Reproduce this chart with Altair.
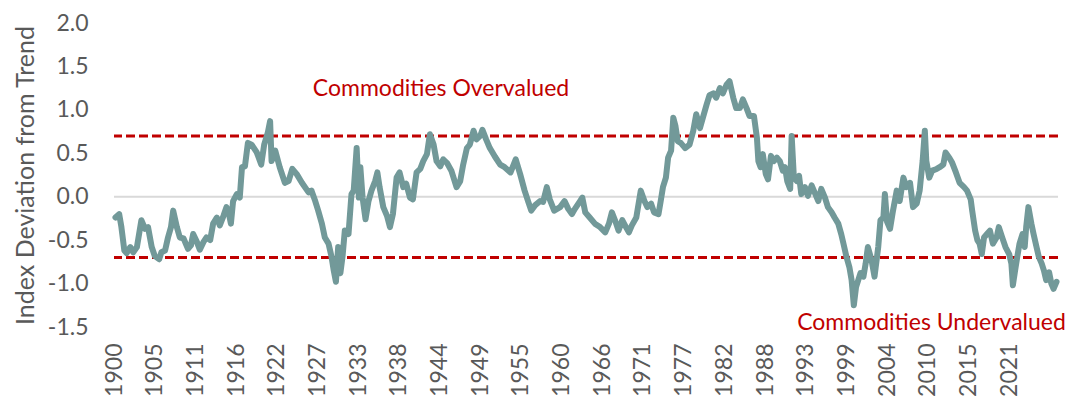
import altair as alt
import pandas as pd

# position along the chart's year axis (label scale) and index deviation from trend
years = [
    1900.2, 1900.7, 1901.0, 1901.4, 1901.7, 1902.2, 1902.6, 1903.1, 1903.7, 1904.2,
    1904.6, 1905.1, 1905.5, 1906.1, 1906.4, 1906.9, 1907.3, 1907.7, 1908.0, 1908.5,
    1908.9, 1909.4, 1910.0, 1910.4, 1910.7, 1911.2, 1911.6, 1912.1, 1912.5, 1913.0,
    1913.4, 1913.9, 1914.3, 1914.8, 1915.2, 1915.5, 1915.8, 1916.1, 1916.6, 1917.0,
    1917.3, 1917.7, 1918.1, 1918.6, 1919.3, 1919.9, 1920.3, 1920.8, 1921.1, 1921.3,
    1921.8, 1922.4, 1923.1, 1923.6, 1924.1, 1924.7, 1925.4, 1926.3, 1926.7, 1927.2,
    1927.6, 1928.1, 1928.5, 1929.0, 1929.4, 1929.7, 1930.0, 1930.3, 1930.6, 1930.9,
    1931.2, 1931.7, 1932.1, 1932.4, 1932.8, 1933.1, 1933.3, 1933.6, 1934.0, 1934.4,
    1934.8, 1935.3, 1935.6, 1935.9, 1936.4, 1936.9, 1937.3, 1937.7, 1938.2, 1938.6,
    1939.1, 1939.5, 1940.0, 1940.4, 1940.9, 1941.4, 1941.8, 1942.3, 1942.7, 1943.2,
    1943.6, 1944.1, 1944.5, 1945.0, 1945.6, 1946.3, 1946.8, 1947.2, 1947.7, 1948.1,
    1948.6, 1949.0, 1949.5, 1949.8, 1950.3, 1950.8, 1951.5, 1952.2, 1952.8, 1953.6,
    1954.3, 1954.9, 1955.5, 1956.0, 1956.4, 1956.9, 1957.6, 1958.0, 1958.5, 1958.9,
    1959.5, 1960.3, 1960.9, 1961.4, 1961.9, 1962.3, 1963.0, 1963.3, 1963.7, 1964.3,
    1965.0, 1965.7, 1966.4, 1966.9, 1967.3, 1967.8, 1968.2, 1968.7, 1969.2, 1969.6,
    1970.0, 1970.6, 1971.2, 1971.7, 1972.1, 1972.6, 1973.0, 1973.6, 1973.9, 1974.2,
    1974.6, 1974.9, 1975.3, 1975.6, 1975.9, 1976.2, 1976.6, 1977.2, 1977.8, 1978.3,
    1978.7, 1979.2, 1979.6, 1980.1, 1980.5, 1981.0, 1981.4, 1981.9, 1982.3, 1982.8,
    1983.2, 1983.7, 1984.1, 1984.6, 1985.0, 1985.5, 1985.9, 1986.5, 1986.9, 1987.1,
    1987.4, 1987.7, 1988.1, 1988.4, 1988.8, 1989.2, 1989.6, 1990.0, 1990.4, 1990.7,
    1991.0, 1991.4, 1991.6, 1991.9, 1992.3, 1992.6, 1992.9, 1993.4, 1993.8, 1994.3,
    1994.7, 1995.2, 1995.6, 1996.1, 1996.5, 1997.0, 1997.4, 1997.9, 1998.3, 1998.6,
    1999.0, 1999.4, 1999.7, 2000.0, 2000.3, 2000.6, 2000.9, 2001.3, 2001.6, 2001.9,
    2002.4, 2002.8, 2003.3, 2003.6, 2004.0, 2004.2, 2004.5, 2004.9, 2005.3, 2005.8,
    2006.2, 2006.7, 2007.1, 2007.6, 2008.0, 2008.5, 2008.9, 2009.3, 2009.6, 2009.8,
    2010.2, 2010.6, 2011.2, 2011.6, 2012.1, 2012.4, 2012.9, 2013.3, 2013.8, 2014.3,
    2014.9, 2015.3, 2015.8, 2016.0, 2016.4, 2016.7, 2017.0, 2017.3, 2017.6, 2018.0,
    2018.4, 2018.8, 2019.3, 2019.6, 2020.1, 2020.5, 2021.0, 2021.3, 2021.5, 2021.8,
    2022.1, 2022.4, 2022.8, 2023.1, 2023.3, 2023.6, 2024.0, 2024.3, 2024.7, 2025.0,
    2025.4, 2025.7, 2026.0, 2026.4, 2026.7, 2027.0, 2027.4,
]
deviation = [
    -0.24, -0.20, -0.35, -0.62, -0.65, -0.58, -0.64, -0.58, -0.27, -0.37,
    -0.35, -0.58, -0.68, -0.72, -0.64, -0.62, -0.47, -0.35, -0.16, -0.35,
    -0.47, -0.48, -0.60, -0.56, -0.43, -0.52, -0.61, -0.52, -0.47, -0.50,
    -0.31, -0.24, -0.33, -0.22, -0.12, -0.18, -0.31, -0.05, 0.03, -0.01,
    0.34, 0.35, 0.62, 0.60, 0.51, 0.37, 0.60, 0.74, 0.87, 0.41,
    0.53, 0.34, 0.16, 0.18, 0.32, 0.26, 0.16, 0.05, 0.07, -0.05,
    -0.16, -0.31, -0.47, -0.54, -0.69, -0.85, -0.98, -0.58, -0.88, -0.68,
    -0.39, -0.43, 0.03, 0.07, 0.56, -0.01, 0.34, -0.01, -0.26, -0.05,
    0.07, 0.18, 0.28, 0.11, -0.12, -0.22, -0.35, -0.20, 0.22, 0.28,
    0.11, 0.15, -0.01, -0.03, 0.28, 0.32, 0.41, 0.49, 0.72, 0.60,
    0.41, 0.35, 0.43, 0.39, 0.30, 0.11, 0.18, 0.37, 0.56, 0.60,
    0.76, 0.66, 0.70, 0.77, 0.66, 0.56, 0.46, 0.37, 0.34, 0.28,
    0.43, 0.26, 0.07, -0.06, -0.16, -0.10, -0.05, -0.06, 0.11, -0.03,
    -0.16, -0.12, -0.05, -0.14, -0.20, -0.14, -0.05, -0.01, -0.18, -0.24,
    -0.31, -0.35, -0.41, -0.31, -0.18, -0.29, -0.39, -0.27, -0.35, -0.41,
    -0.33, -0.24, 0.07, -0.05, -0.12, -0.08, -0.18, -0.20, -0.05, 0.11,
    0.22, 0.45, 0.53, 0.91, 0.81, 0.64, 0.62, 0.56, 0.60, 0.76,
    0.95, 0.79, 0.91, 1.06, 1.17, 1.19, 1.14, 1.25, 1.19, 1.29,
    1.33, 1.14, 1.02, 1.02, 1.12, 1.02, 0.93, 0.93, 0.68, 0.41,
    0.34, 0.49, 0.26, 0.20, 0.47, 0.41, 0.45, 0.41, 0.30, 0.34,
    0.18, 0.09, 0.70, 0.22, 0.18, 0.24, 0.03, 0.11, 0.01, 0.13,
    0.05, -0.05, 0.09, -0.01, -0.12, -0.18, -0.24, -0.31, -0.43, -0.54,
    -0.69, -0.81, -0.96, -1.25, -1.04, -0.96, -0.88, -0.92, -0.77, -0.58,
    -0.73, -0.92, -0.58, -0.27, -0.24, 0.03, -0.29, -0.37, -0.16, 0.07,
    -0.05, 0.22, 0.11, 0.16, -0.12, -0.08, 0.07, 0.41, 0.76, 0.41,
    0.22, 0.30, 0.32, 0.34, 0.37, 0.51, 0.45, 0.39, 0.28, 0.16,
    0.11, 0.07, -0.03, -0.16, -0.39, -0.50, -0.54, -0.66, -0.47, -0.43,
    -0.39, -0.54, -0.47, -0.35, -0.48, -0.58, -0.66, -0.77, -1.02, -0.85,
    -0.69, -0.54, -0.43, -0.58, -0.35, -0.12, -0.31, -0.43, -0.58, -0.69,
    -0.77, -0.85, -0.96, -0.87, -1.00, -1.06, -0.98,
]
thresholds = [0.7, -0.7]
zero_line = [0.0]
year_ticks = [1900 + 5.5 * k for k in range(23)]
y_ticks = [-1.5, -1.0, -0.5, 0.0, 0.5, 1.0, 1.5, 2.0]
annotations = ["Commodities Overvalued", "Commodities Undervalued"]

FONT = "Lato"
GREY = "#595959"
RED = "#c00000"

df = pd.DataFrame({"year": years, "dev": deviation})
x_scale = alt.Scale(domain=[1900, 2027.6], nice=False, zero=False)
y_scale = alt.Scale(domain=[-1.5, 2.0], nice=False)

zero = alt.Chart(pd.DataFrame({"v": zero_line})).mark_rule(
    color="#d9d9d9", strokeWidth=2
).encode(y=alt.Y("v:Q", scale=y_scale))

dashes = alt.Chart(pd.DataFrame({"v": thresholds})).mark_rule(
    color=RED, strokeWidth=3, strokeDash=[9, 4]
).encode(y=alt.Y("v:Q", scale=y_scale))

line = alt.Chart(df).mark_line(
    color="#729999", strokeWidth=6, strokeJoin="round", strokeCap="round"
).encode(
    x=alt.X(
        "year:Q",
        scale=x_scale,
        axis=alt.Axis(
            values=year_ticks,
            labelExpr="floor(datum.value + 0.01)",
            labelAngle=-90,
            labelFontSize=23,
            labelFont=FONT,
            labelColor=GREY,
            labelPadding=16,
            ticks=False,
            domain=False,
            grid=False,
            title=None,
        ),
    ),
    y=alt.Y(
        "dev:Q",
        scale=y_scale,
        axis=alt.Axis(
            values=y_ticks,
            labelExpr="datum.value < 0 ? '-' + format(-datum.value, '.1f') : format(datum.value, '.1f')",
            labelFontSize=23,
            labelFont=FONT,
            labelColor=GREY,
            labelPadding=26,
            ticks=False,
            domain=False,
            grid=False,
            title="Index Deviation from Trend",
            titleFontSize=25,
            titleFont=FONT,
            titleColor=GREY,
            titleFontWeight="normal",
            titlePadding=9,
        ),
    ),
)

over = alt.Chart(pd.DataFrame({"t": [annotations[0]]})).mark_text(
    color=RED, fontSize=23, font=FONT, align="center", baseline="middle"
).encode(x=alt.datum(1944.2, scale=x_scale), y=alt.datum(1.24, scale=y_scale), text="t:N")

under = alt.Chart(pd.DataFrame({"t": [annotations[1]]})).mark_text(
    color=RED, fontSize=23, font=FONT, align="center", baseline="middle"
).encode(x=alt.datum(2010.5, scale=x_scale), y=alt.datum(-1.45, scale=y_scale), text="t:N")

chart = alt.layer(zero, dashes, line, over, under).properties(
    width=944,
    height=304,
    background="white",
    autosize=alt.AutoSizeParams(type="none"),
    padding={"left": 106, "top": 15, "right": 15, "bottom": 70},
).configure_view(stroke=None)

chart.save("out.html", embed_options={"renderer": "svg", "actions": False})
